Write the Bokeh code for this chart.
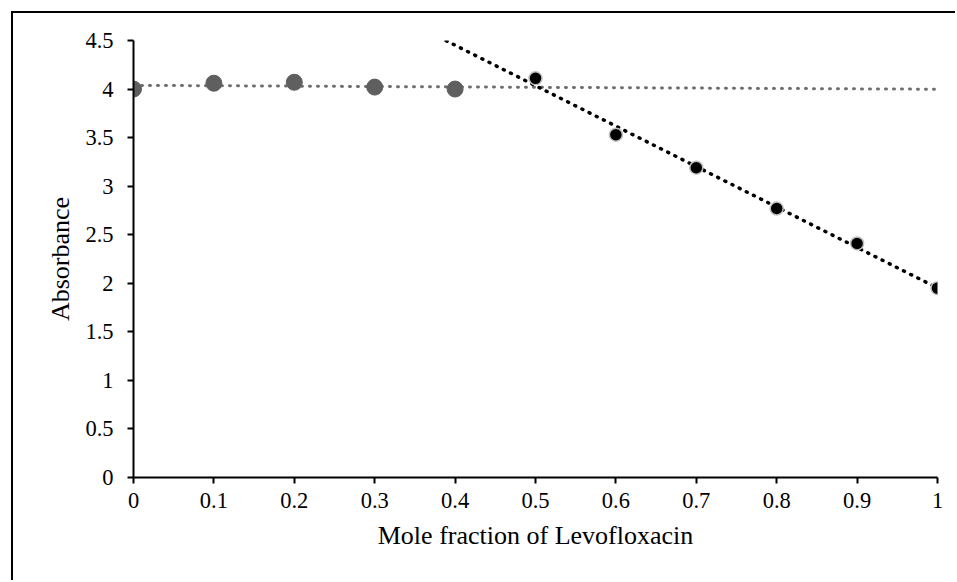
import numpy as np
from bokeh.plotting import figure
from bokeh.models import Range1d, FixedTicker
from bokeh.embed import file_html
from bokeh.resources import INLINE

# Job's plot data: absorbance vs. mole fraction of levofloxacin
x_left = [0.0, 0.1, 0.2, 0.3, 0.4]
abs_left = [4.00, 4.06, 4.07, 4.02, 4.00]
x_right = [0.5, 0.6, 0.7, 0.8, 0.9, 1.0]
abs_right = [4.11, 3.53, 3.19, 2.77, 2.41, 1.95]

x_ticks = [0, 0.1, 0.2, 0.3, 0.4, 0.5, 0.6, 0.7, 0.8, 0.9, 1.0]
y_ticks = [0, 0.5, 1, 1.5, 2, 2.5, 3, 3.5, 4, 4.5]

FONT = "Liberation Serif"

p = figure(width=944, height=569, output_backend="svg", toolbar_location=None,
           x_range=Range1d(0, 1), y_range=Range1d(0, 4.5),
           min_border_left=120, min_border_top=27,
           min_border_right=20, min_border_bottom=105)
p.styles = {"margin-left": "11px", "margin-top": "11px",
            "border-left": "2px solid black", "border-top": "2px solid black"}

p.grid.visible = False
p.outline_line_color = None
p.background_fill_color = "white"
p.border_fill_color = "white"

# linear trend lines fitted to each branch
m1, b1 = np.polyfit(x_left, abs_left, 1)
m2, b2 = np.polyfit(x_right, abs_right, 1)
tx1 = np.array([0.0, 1.0])
tx2 = np.array([0.3, 1.0])
p.line(tx1, m1 * tx1 + b1, line_color="#6e6e6e", line_width=3,
       line_dash="1 7", line_cap="round")
p.line(tx2, m2 * tx2 + b2, line_color="black", line_width=3.5,
       line_dash="1 7", line_cap="round")

p.scatter(x_left, abs_left, size=16, fill_color="#5f5f5f", line_color="#5f5f5f")
p.scatter(x_right, abs_right, size=13, fill_color="black", line_color="#c0c0c0",
          line_width=1.5)

for ax in (p.xaxis[0], p.yaxis[0]):
    ax.axis_line_color = "black"
    ax.axis_line_width = 2
    ax.major_tick_line_color = "black"
    ax.major_tick_line_width = 2
    ax.major_tick_in = 0
    ax.major_tick_out = 6
    ax.minor_tick_line_color = None
    ax.major_label_text_font = FONT
    ax.major_label_text_font_size = "22.5px"
    ax.major_label_text_color = "black"
    ax.axis_label_text_font = FONT
    ax.axis_label_text_font_size = "26px"
    ax.axis_label_text_font_style = "normal"
    ax.axis_label_text_color = "black"

p.xaxis.ticker = FixedTicker(ticks=x_ticks)
p.yaxis.ticker = FixedTicker(ticks=y_ticks)
p.xaxis.major_label_overrides = {0: "0", 1: "1", 1.0: "1"}
p.yaxis.major_label_overrides = {0: "0", 1: "1", 2: "2", 3: "3", 4: "4"}
p.xaxis.axis_label = "Mole fraction of Levofloxacin"
p.yaxis.axis_label = "Absorbance"
p.xaxis.major_label_standoff = 9
p.yaxis.major_label_standoff = 14
p.xaxis.axis_label_standoff = 10
p.yaxis.axis_label_standoff = 7

open("out.html", "w").write(file_html(p, INLINE))
